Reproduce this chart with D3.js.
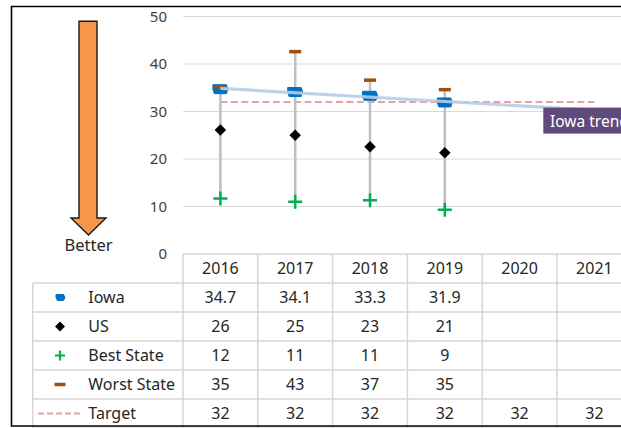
<!DOCTYPE html>
<html><head><meta charset="utf-8">
<script src="https://cdn.jsdelivr.net/npm/d3@7"></script>
<style>
html,body{margin:0;padding:0;background:#fff;}
svg{display:block;font-family:"Noto Sans","Open Sans",sans-serif;}
</style></head>
<body>
<svg id="c" width="621" height="428"></svg>
<script>
// ---- data ----
const years = ["2016","2017","2018","2019","2020","2021"];
const iowa = [34.7, 34.1, 33.3, 31.9, null, null];
const us = [26.1, 25.0, 22.6, 21.3, null, null];
const bestState = [11.7, 11.0, 11.3, 9.3, null, null];
const worstState = [35.2, 42.6, 36.6, 34.6, null, null];
const target = [32, 32, 32, 32, 32, 32];
const yTicks = [0, 10, 20, 30, 40, 50];
const seriesNames = ["Iowa", "US", "Best State", "Worst State", "Target"];
const trendLabel = "Iowa trend";
const betterLabel = "Better";

const svg = d3.select("#c");
svg.append("rect").attr("width",621).attr("height",428).attr("fill","#fff");

const plotLeft = 183, colW = 74.8;
const x = d3.scaleBand().domain(years).range([plotLeft, plotLeft + colW*years.length]).padding(0);
const cx = d => x(d) + x.bandwidth()/2;
const y = d3.scaleLinear().domain([0,50]).range([254,16.5]);

// gridlines
svg.append("g").selectAll("line").data(yTicks.filter(t=>t>0)).join("line")
  .attr("x1",plotLeft).attr("x2",621).attr("y1",d=>y(d)).attr("y2",d=>y(d))
  .attr("stroke","#D9D9D9").attr("stroke-width",1.2);

// y axis labels
const yAxis = d3.axisLeft(y).tickValues(yTicks).tickSize(0).tickPadding(0);
const gy = svg.append("g").attr("transform","translate(167,0)").call(yAxis);
gy.select(".domain").remove();
gy.selectAll("text").attr("font-size",15).attr("fill","#404040")
  .attr("font-family",'"Noto Sans",sans-serif');

// arrow
const arrow = d3.path();
arrow.moveTo(79,21.3); arrow.lineTo(97,21.3); arrow.lineTo(97,218); arrow.lineTo(106,218);
arrow.lineTo(88.5,235); arrow.lineTo(71,218); arrow.lineTo(79,218); arrow.closePath();
svg.append("path").attr("d",arrow.toString()).attr("fill","#F79646").attr("stroke","#1a1a1a").attr("stroke-width",1.4);
svg.append("text").attr("x",88.5).attr("y",251).attr("text-anchor","middle")
  .attr("font-size",16.5).attr("fill","#262626").text(betterLabel);

// table
const rowTop = 254, rowH = 29, legendLeft = 32.7, tableRight = plotLeft + colW*years.length;
const tg = svg.append("g");
const lineC = "#D6D6D6", lineW = 1.5;
for (let r=0; r<=6; r++){
  const yy = rowTop + r*rowH;
  tg.append("line").attr("x1", r===0 ? plotLeft : legendLeft).attr("x2", tableRight)
    .attr("y1",yy).attr("y2",yy).attr("stroke",lineC).attr("stroke-width",lineW);
}
tg.append("line").attr("x1",legendLeft).attr("x2",legendLeft).attr("y1",rowTop+rowH).attr("y2",rowTop+6*rowH)
  .attr("stroke",lineC).attr("stroke-width",lineW);
years.forEach((yr)=>{
  tg.append("line").attr("x1",x(yr)).attr("x2",x(yr)).attr("y1",rowTop).attr("y2",rowTop+6*rowH)
    .attr("stroke",lineC).attr("stroke-width",lineW);
});
tg.selectAll("text.hdr").data(years).join("text").attr("class","hdr")
  .attr("x",d=>cx(d)).attr("y",rowTop+rowH/2+5.5).attr("text-anchor","middle")
  .attr("font-size",16).attr("fill","#262626").text(d=>d);
const rows = [
  {name:seriesNames[0], vals:iowa, fmt:d3.format(".1f")},
  {name:seriesNames[1], vals:us, fmt:d3.format(".0f")},
  {name:seriesNames[2], vals:bestState, fmt:d3.format(".0f")},
  {name:seriesNames[3], vals:worstState, fmt:d3.format(".0f")},
  {name:seriesNames[4], vals:target, fmt:d3.format(".0f")}
];
rows.forEach((row,r)=>{
  const ty = rowTop + (r+1)*rowH + rowH/2 + 5.5;
  tg.append("text").attr("x",88.3).attr("y",ty).attr("font-size",16).attr("fill","#262626").text(row.name);
  row.vals.forEach((v,i)=>{
    if (v==null) return;
    tg.append("text").attr("x",cx(years[i])).attr("y",ty).attr("text-anchor","middle")
      .attr("font-size",16).attr("fill","#262626").text(row.fmt(v));
  });
});

// marker helpers
const blue = "#0070C0", brown = "#A0500E", green = "#00B050";
function iowaMarker(g, px, py, w, h){
  const p = d3.path();
  p.moveTo(px-w/2, py-h/2); p.lineTo(px+w/2-1.5, py-h/2); p.lineTo(px+w/2, py);
  p.lineTo(px+w/2-1.5, py+h/2); p.lineTo(px-w/2+1.5, py+h/2); p.lineTo(px-w/2, py); p.closePath();
  g.append("path").attr("d",p.toString()).attr("fill",blue).attr("stroke",blue).attr("stroke-width",1).attr("stroke-linejoin","round");
}
function diamond(g, px, py, s){
  g.append("path").attr("d",`M${px},${py-s/2}L${px+s/2},${py}L${px},${py+s/2}L${px-s/2},${py}Z`).attr("fill","#000");
}
function plus(g, px, py, s, sw){
  g.append("path").attr("d",`M${px-s/2},${py}H${px+s/2}M${px},${py-s/2}V${py+s/2}`)
    .attr("stroke",green).attr("stroke-width",sw).attr("fill","none");
}
function dash(g, px, py, w, h){
  g.append("rect").attr("x",px-w/2).attr("y",py-h/2).attr("width",w).attr("height",h).attr("fill",brown);
}

// legend markers
const lg = svg.append("g");
const lyc = r => rowTop + (r+1)*rowH + rowH/2;
iowaMarker(lg, 60.5, lyc(0), 9, 6);
diamond(lg, 60, lyc(1), 10);
plus(lg, 60, lyc(2), 10, 2.2);
dash(lg, 60, lyc(3), 11, 3.5);
lg.append("line").attr("x1",38).attr("x2",83).attr("y1",lyc(4)).attr("y2",lyc(4))
  .attr("stroke","#E6A3A3").attr("stroke-width",2).attr("stroke-dasharray","6,3");

// chart
const cg = svg.append("g");
const tLine = d3.line().x((d,i)=>cx(years[i])).y(d=>y(d));
cg.append("path").attr("d",tLine(target)).attr("fill","none")
  .attr("stroke","#E6A3A3").attr("stroke-width",2).attr("stroke-dasharray","7,3.5");
years.forEach((yr,i)=>{
  if (worstState[i]==null) return;
  cg.append("line").attr("x1",cx(yr)).attr("x2",cx(yr)).attr("y1",y(worstState[i])).attr("y2",y(bestState[i]))
    .attr("stroke","#BFBFBF").attr("stroke-width",2.5);
});
years.forEach((yr,i)=>{
  if (us[i]!=null) diamond(cg, cx(yr), y(us[i]), 11.5);
  if (bestState[i]!=null) plus(cg, cx(yr), y(bestState[i]), 14, 2.5);
  if (iowa[i]!=null) iowaMarker(cg, cx(yr), y(iowa[i]), 15, 9);
  if (worstState[i]!=null) dash(cg, cx(yr), y(worstState[i]), 12, 3.5);
});
// trend line (linear regression of Iowa, extended through 2021)
const pts = iowa.map((v,i)=>[i,v]).filter(d=>d[1]!=null);
const mx = d3.mean(pts,d=>d[0]), my = d3.mean(pts,d=>d[1]);
const slope = d3.sum(pts,d=>(d[0]-mx)*(d[1]-my))/d3.sum(pts,d=>(d[0]-mx)**2);
const icpt = my - slope*mx;
const trendX = [0, years.length-1];
cg.append("line")
  .attr("x1",cx(years[trendX[0]])).attr("y1",y(icpt+slope*trendX[0]))
  .attr("x2",cx(years[trendX[1]])).attr("y2",y(icpt+slope*trendX[1]))
  .attr("stroke","#B8CDE6").attr("stroke-opacity",0.9).attr("stroke-width",3.2);
// trend label (cut by the right edge, as in the reference)
svg.append("rect").attr("x",543.3).attr("y",107.6).attr("width",90).attr("height",26).attr("fill","#604A7B");
svg.append("text").attr("x",550).attr("y",126.5).attr("font-size",15.5).attr("fill","#fff").text(trendLabel);

// outer border
svg.append("path").attr("d","M640,6.5H11.5V426H640").attr("fill","none").attr("stroke","#000").attr("stroke-width",1.6);
</script>
</body></html>
